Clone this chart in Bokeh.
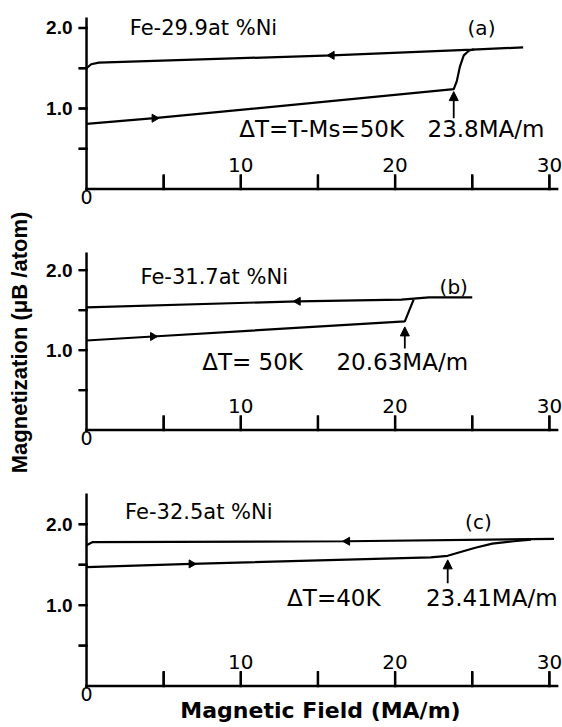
from math import pi

from bokeh.core.properties import value
from bokeh.embed import file_html
from bokeh.layouts import column
from bokeh.models import Arrow, FixedTicker, Label, NormalHead, Range1d
from bokeh.plotting import figure
from bokeh.resources import INLINE

TEXT_FONT = "DejaVu Sans"
TICK_FONT = "Liberation Sans"

# ---- axes -----------------------------------------------------------------
X_START, X_END, AXIS_END = -0.52, 30.85, 30.5
Y_START = -0.03
X_TICK_LEN = 0.17
X_TICK_HALF = 0.07    # half thickness of a field tick, in MA/m
Y_TICK_HALF = 0.013   # half thickness of a magnetization tick
X_TICKS = [0, 5, 10, 15, 20, 25, 30]
X_NUMBERED = [10, 20, 30]
X_NUMBER_TEXT = ["10", "20", "30"]
Y_TICKS = [0.5, 1.0, 1.5, 2.0]
Y_LABELED = {1.0: "1.0", 2.0: "2.0"}

# ---- (a) Fe-29.9at%Ni, dT = 50 K, transition at 23.8 MA/m ------------------
a_down_x = [0.0, 0.3, 0.8, 15.9, 25.0, 28.3]
a_down_y = [1.50, 1.55, 1.57, 1.66, 1.73, 1.76]
a_up_x = [0.0, 4.4, 23.8, 24.0, 24.2, 24.45, 24.8, 25.1]
a_up_y = [0.81, 0.88, 1.24, 1.34, 1.52, 1.66, 1.72, 1.735]
a_marks_x = [15.9, 4.4]
a_marks_y = [1.66, 0.88]
a_field = 23.8
a_field_arrow = [0.88, 1.21]

# ---- (b) Fe-31.7at%Ni, dT = 50 K, transition at 20.63 MA/m -----------------
b_down_x = [0.0, 13.7, 20.4, 22.2, 25.0]
b_down_y = [1.535, 1.61, 1.63, 1.66, 1.66]
b_up_x = [0.0, 4.3, 20.63, 21.2]
b_up_y = [1.12, 1.17, 1.36, 1.63]
b_marks_x = [13.7, 4.3]
b_marks_y = [1.61, 1.17]
b_field = 20.63
b_field_arrow = [1.02, 1.29]

# ---- (c) Fe-32.5at%Ni, dT = 40 K, transition at 23.41 MA/m -----------------
c_down_x = [0.0, 0.4, 16.9, 30.3]
c_down_y = [1.74, 1.78, 1.79, 1.82]
c_up_x = [0.0, 6.8, 22.3, 23.41, 24.3, 25.2, 26.3, 27.7, 28.8]
c_up_y = [1.47, 1.51, 1.59, 1.61, 1.66, 1.71, 1.76, 1.79, 1.81]
c_marks_x = [16.9, 6.8]
c_marks_y = [1.79, 1.51]
c_field = 23.41
c_field_arrow = [1.27, 1.56]

MARK_ANGLES = [pi / 2, -pi / 2]  # field decreasing (left), increasing (right)


def panel(height, top, bottom, ymax, down, up, marks, field, field_arrow,
          alloy, tag, dt, texts_y, ylabel=None, xlabel=None):
    p = figure(width=562, height=height, x_range=Range1d(X_START, X_END),
               y_range=Range1d(Y_START, ymax), output_backend="svg",
               toolbar_location=None, min_border_left=78, min_border_right=0,
               min_border_top=top, min_border_bottom=bottom)
    p.outline_line_color = None
    p.grid.visible = False

    # built-in axes only carry the numbers; rules and ticks are drawn below
    xa = p.xaxis[0]
    xa.ticker = FixedTicker(ticks=X_TICKS)
    xa.major_label_overrides = {t: "" for t in X_TICKS if t != 0}
    xa.axis_line_color = None
    xa.major_tick_line_color = None
    xa.minor_tick_line_color = None
    xa.major_tick_in = 0
    xa.major_tick_out = 0
    xa.major_label_standoff = -2
    xa.major_label_text_font = TEXT_FONT
    xa.major_label_text_font_size = "19px"
    xa.major_label_text_color = "black"
    xa.major_label_text_line_height = 1.0
    if xlabel:
        xa.axis_label = xlabel
        xa.axis_label_text_font = TEXT_FONT
        xa.axis_label_text_font_size = "22px"
        xa.axis_label_text_font_style = "bold"
        xa.axis_label_text_color = "black"
        xa.axis_label_text_line_height = 1.0
        xa.axis_label_standoff = -6

    ya = p.yaxis[0]
    ya.ticker = FixedTicker(ticks=Y_TICKS)
    ya.major_label_overrides = {t: Y_LABELED.get(t, "") for t in Y_TICKS}
    ya.axis_line_color = None
    ya.major_tick_line_color = None
    ya.minor_tick_line_color = None
    ya.major_tick_in = 0
    ya.major_tick_out = 0
    ya.major_label_standoff = 6
    ya.major_label_text_font = TICK_FONT
    ya.major_label_text_font_size = "19px"
    ya.major_label_text_font_style = "bold"
    ya.major_label_text_color = "black"
    if ylabel:
        ya.axis_label = ylabel
        ya.axis_label_text_font = TICK_FONT
        ya.axis_label_text_font_size = "22px"
        ya.axis_label_text_font_style = "bold"
        ya.axis_label_text_color = "black"
        ya.axis_label_standoff = 11

    # axis rules
    p.segment(x0=[0], y0=[0], x1=[AXIS_END], y1=[0], line_color="black",
              line_width=2.5, line_cap="square")
    p.ray(x=[0], y=[Y_START], length=0, angle=pi / 2, line_color="black",
          line_width=2.5)

    # tick marks: filled bars plus stroked strokes on top of them
    xt = X_TICKS[1:]
    p.quad(left=[t - X_TICK_HALF for t in xt], right=[t + X_TICK_HALF for t in xt],
           bottom=[0] * len(xt), top=[X_TICK_LEN] * len(xt),
           fill_color="black", line_color=None)
    p.quad(left=[X_START] * len(Y_TICKS), right=[0] * len(Y_TICKS),
           bottom=[t - Y_TICK_HALF for t in Y_TICKS],
           top=[t + Y_TICK_HALF for t in Y_TICKS],
           fill_color="black", line_color=None)
    p.multi_line(xs=[[t, t] for t in xt], ys=[[0, X_TICK_LEN] for _ in xt],
                 line_color="black", line_width=2.4, line_cap="square")
    p.multi_line(xs=[[X_START, 0] for _ in Y_TICKS],
                 ys=[[t, t] for t in Y_TICKS],
                 line_color="black", line_width=2.4, line_cap="square")

    # numbers of the field axis sit above the axis line
    p.text(x=X_NUMBERED, y=[0] * len(X_NUMBERED), text=X_NUMBER_TEXT,
           text_align="center", text_baseline="bottom", y_offset=-17,
           text_font=value(TEXT_FONT), text_font_size="20px",
           text_color="black")

    p.line(down[0], down[1], line_color="black", line_width=2.2)
    p.line(up[0], up[1], line_color="black", line_width=2.2)
    p.scatter(marks[0], marks[1], marker="triangle", size=8,
              angle=MARK_ANGLES, color="black")

    p.add_layout(Arrow(end=NormalHead(size=9, fill_color="black",
                                      line_color="black", line_width=1),
                       x_start=field, y_start=field_arrow[0],
                       x_end=field, y_end=field_arrow[1],
                       line_color="black", line_width=1.8))

    def lab(x, y, text, size, align="left"):
        p.add_layout(Label(x=x, y=y, text=text, text_font=TEXT_FONT,
                           text_font_size=size, text_align=align,
                           text_baseline="middle", text_color="black"))

    lab(alloy[0], alloy[1], alloy[2], "21px")
    lab(tag[0], tag[1], tag[2], "20px", "center")
    lab(dt[0], texts_y, dt[1], "23px")
    lab(dt[2], texts_y, f"{field}MA/m", "23px")
    return p


pa = panel(210, 17, 19, 2.13, (a_down_x, a_down_y), (a_up_x, a_up_y),
           (a_marks_x, a_marks_y), a_field, a_field_arrow,
           (2.8, 2.0, "Fe-29.9at %Ni"), (25.6, 2.0, "(a)"),
           (9.9, "ΔT=T-Ms=50K", 22.1), 0.74)
pb = panel(277, 42, 55, 2.22, (b_down_x, b_down_y), (b_up_x, b_up_y),
           (b_marks_x, b_marks_y), b_field, b_field_arrow,
           (3.5, 1.91, "Fe-31.7at %Ni"), (23.8, 1.79, "(b)"),
           (7.5, "ΔT= 50K", 16.2), 0.85,
           ylabel="Magnetization (μB /atom)")
pc = panel(240, 6, 39, 2.38, (c_down_x, c_down_y), (c_up_x, c_up_y),
           (c_marks_x, c_marks_y), c_field, c_field_arrow,
           (2.5, 2.15, "Fe-32.5at %Ni"), (25.4, 2.03, "(c)"),
           (13.0, "ΔT=40K", 22.0), 1.085,
           xlabel="Magnetic Field (MA/m)")

layout = column(pa, pb, pc)

open("out.html", "w").write(file_html(layout, INLINE))
